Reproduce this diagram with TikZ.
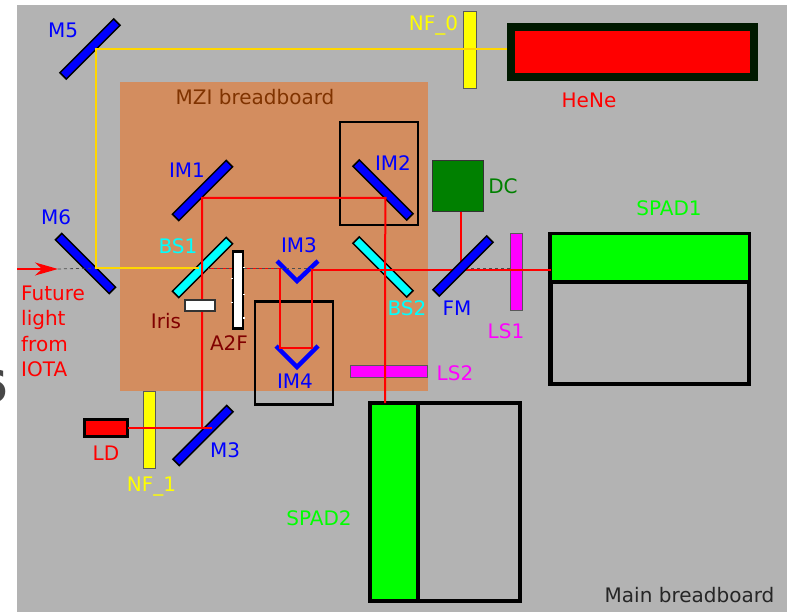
\documentclass[tikz,border=0pt]{standalone}
\usepackage{fontspec}
\setmainfont{DejaVu Sans}
\usetikzlibrary{arrows.meta}
\definecolor{bgray}{HTML}{B3B3B3}
\definecolor{board}{HTML}{D38D5F}
\definecolor{boardtxt}{HTML}{803300}
\definecolor{darkred}{HTML}{800000}
\definecolor{beamy}{HTML}{FFD700}
\definecolor{dcgreen}{HTML}{008000}
\definecolor{pcyan}{HTML}{00FFFF}
\definecolor{pmag}{HTML}{FF00FF}
\definecolor{pyel}{HTML}{FFFF00}
\definecolor{pgreen}{HTML}{00FF00}
\definecolor{pblue}{HTML}{0000FF}
\definecolor{pred}{HTML}{FF0000}
\tikzset{
  box/.style={rectangle,inner sep=0pt,outer sep=0pt,line width=#1},
  box/.default=1pt,
  mirror/.style={box=1.5pt,draw=black,fill=pblue,minimum width=76pt,minimum height=9pt},
  splitter/.style={box=1.5pt,draw=black,fill=pcyan,minimum width=76pt,minimum height=9pt},
  filterbar/.style={box=1pt,draw=black!65,minimum width=#1},
  lab/.style={inner sep=0pt,font=\fontsize{20pt}{23pt}\selectfont},
  redbeam/.style={pred,line width=2pt},
  thinbeam/.style={pred,line width=1.5pt},
  yelbeam/.style={beamy,line width=2.6pt},
  vee/.style={pblue,line width=4.5pt,line join=miter},
  faint/.style={black!70,line width=.8pt,dash pattern=on 3pt off 3pt},
}
\begin{document}
\begin{tikzpicture}[x=1pt,y=-1pt]
\useasboundingbox (0,0) rectangle (787,612);
\fill[white] (0,0) rectangle (787,612);
\node[inner sep=0pt,anchor=east,text=black!72,font=\fontsize{44pt}{44pt}\selectfont\bfseries] (cut) at (8,387) {6};
\fill[bgray] (17,5) rectangle (787,612);
\fill[board] (120,82) rectangle (428,391);

% boxes
\node[box=2.5pt,draw=black,minimum width=78pt,minimum height=103pt] (im2box) at (379,173.5) {};
\node[box=2.5pt,draw=black,minimum width=78pt,minimum height=103pt] (im4box) at (294,353) {};
\node[box=3pt,draw=black,fill=pred,minimum width=43pt,minimum height=17pt] (ld) at (106,428) {};
\node[box=1pt,draw=black!80,fill=dcgreen,minimum width=51pt,minimum height=51pt] (dc) at (458,186) {};
\node[box=4.5pt,draw=black,minimum width=198.5pt,minimum height=102pt] (spad1b) at (649.5,333) {};
\node[box=3.5pt,draw=black,fill=pgreen,minimum width=199.5pt,minimum height=48pt] (spad1) at (649.7,257.5) {};
\node[box=4pt,draw=black,minimum width=102pt,minimum height=198pt] (spad2b) at (469,502) {};
\node[box=4pt,draw=black,fill=pgreen,minimum width=48pt,minimum height=198pt] (spad2) at (394,502) {};

% filters
\node[filterbar=13pt,fill=pyel,minimum height=77pt] (nf0) at (470,50) {};
\node[filterbar=12pt,fill=pyel,minimum height=77pt] (nf1) at (149,429.5) {};
\node[filterbar=12pt,fill=pmag,minimum height=77pt] (ls1) at (516.5,272.5) {};
\node[filterbar=77pt,fill=pmag,minimum height=12pt] (ls2) at (389,371.5) {};

% mirrors under the beams
\node[mirror,rotate=-45] (m6) at (85.5,263.5) {};
\node[mirror,rotate=45] (m5) at (90,49) {};
\node[mirror,rotate=45] (im1) at (202.5,190.5) {};
\node[splitter,rotate=45] (bs1) at (202.5,267.5) {};
\node[mirror,rotate=-45] (im2) at (383,190) {};
\node[splitter,rotate=-45] (bs2) at (383,267) {};
\node[mirror,rotate=45] (m3) at (203,435.5) {};

% junctions
\coordinate (a0) at (17,269);
\coordinate (a1) at (58,269);
\coordinate (y1) at (96,49);
\coordinate (y2) at (96,268);
\coordinate (y3) at (199,268);
\coordinate (r1) at (212,428);
\coordinate (r2) at (202,428);
\coordinate (r3) at (202,198);
\coordinate (r4) at (385.5,198);
\coordinate (r5) at (385,269);
\coordinate (r6) at (385,403);
\coordinate (b1) at (208,268.5);
\coordinate (b2) at (280,268.5);
\coordinate (b3) at (280,348);
\coordinate (b4) at (312,348);
\coordinate (b5) at (312,270);
\coordinate (d1) at (460.5,212);
\coordinate (d2) at (460.5,264);
\coordinate (e1) at (551,270);
\coordinate (g1) at (465,268.7);
\coordinate (g2) at (510,268.7);

% V mirrors
\coordinate (v1a) at (277,261); \coordinate (v1b) at (297,281); \coordinate (v1c) at (318,261);
\coordinate (v2a) at (276,346); \coordinate (v2b) at (297,367); \coordinate (v2c) at (318,346);
\draw[vee] (v1a) -- (v1b) -- (v1c);
\draw[vee] (v2a) -- (v2b) -- (v2c);

% beams
\draw[faint] (g1) -- (g2);
\draw[redbeam] (ld.east|-r1) -- (r1);
\draw[redbeam] (r2) -- (r3) -- (r4) -- (r5) -- (r6);
\draw[thinbeam] (b1) -- (b2);
\draw[redbeam] (b2) -- (b3) -- (b4) -- (b5) -- (e1);
\draw[redbeam] (d1) -- (d2);
\draw[faint] (a1) -- (y2);
\draw[faint] (b1) -- (b2);
\draw[faint] (b2) -- (b5|-b2);
\draw[pred,line width=1.5pt,-{Stealth[length=23pt,width=13pt,inset=7pt]}] (a0) -- (a1);
\draw[yelbeam] (510,49) -- (y1) -- (y2) -- (y3);

% elements above the beams
\node[box=8pt,draw=black!90!green,fill=pred,minimum width=243pt,minimum height=50pt] (hene) at (632,52.3) {};
\node[mirror,rotate=45] (fm) at (463,266) {};
\node[box=2.2pt,draw=black,fill=white,minimum width=10.5pt,minimum height=77pt] (a2f) at (238,290) {};
\draw[white,line width=1pt] (a2f.west|-0,279) -- +(-1.5,0) (a2f.west|-0,303) -- +(-1.5,0) (a2f.east|-0,268) -- +(1.5,0) (a2f.east|-0,295) -- +(1.5,0) (a2f.east|-0,318) -- +(1.5,0);
\node[box=1.6pt,draw=black!80,fill=white,minimum width=30pt,minimum height=11.5pt] (iris) at (199.7,305.5) {};

% labels
\node[lab,text=pblue] (tm5) at (63,30) {M5};
\node[lab,text=pyel] (tnf0) at (433.5,25) {NF\_0};
\node[lab,text=pred] (then) at (589,100) {HeNe};
\node[lab,text=boardtxt] (tmzi) at (255,97) {MZI breadboard};
\node[lab,text=pblue] (tim1) at (187,170) {IM1};
\node[lab,text=pblue] (tim2) at (393,163) {IM2};
\node[lab,text=dcgreen] (tdc) at (503,186) {DC};
\node[lab,text=pgreen] (tsp1) at (669,208) {SPAD1};
\node[lab,text=pblue] (tm6) at (56,217) {M6};
\node[lab,text=pcyan] (tbs1) at (178,246) {BS1};
\node[lab,text=pblue] (tim3) at (299,245) {IM3};
\node[lab,text=darkred] (tiris) at (166,321) {Iris};
\node[lab,text=darkred] (ta2f) at (229,343) {A2F};
\node[lab,text=pcyan] (tbs2) at (407,308) {BS2};
\node[lab,text=pblue] (tfm) at (457,308) {FM};
\node[lab,text=pmag] (tls1) at (506,331) {LS1};
\node[lab,text=pmag] (tls2) at (455,373) {LS2};
\node[lab,text=pblue] (tim4) at (295,381) {IM4};
\node[lab,text=pred] (tld) at (106,453) {LD};
\node[lab,text=pblue] (tm3) at (225,450) {M3};
\node[lab,text=pyel] (tnf1) at (151.5,487) {NF\_1};
\node[lab,text=pgreen] (tsp2) at (319,518) {SPAD2};
\node[lab,text=black!85] (tmain) at (689.5,595) {Main breadboard};
\node[lab,text=pred,anchor=base west] (tf1) at (21,301) {Future};
\node[lab,text=pred,anchor=base west] (tf2) at (21,326) {light};
\node[lab,text=pred,anchor=base west] (tf3) at (21,351) {from};
\node[lab,text=pred,anchor=base west] (tf4) at (21,376) {IOTA};
\end{tikzpicture}
\end{document}
